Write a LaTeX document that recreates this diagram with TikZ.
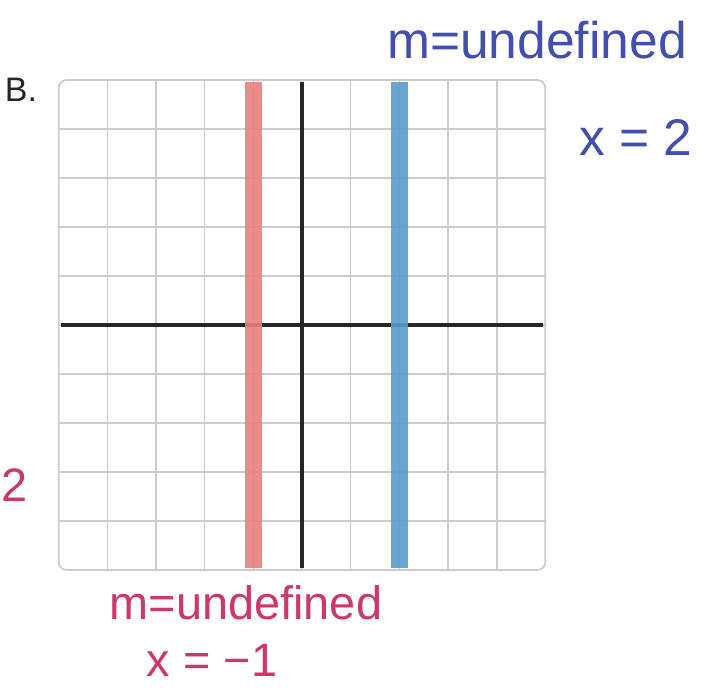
\documentclass[tikz,border=0pt]{standalone}
\usepackage{fontspec}
\setmainfont{Liberation Sans}
\definecolor{gridgray}{rgb}{0.80,0.80,0.80}
\definecolor{linered}{rgb}{0.91,0.50,0.50}
\definecolor{lineblue}{rgb}{0.35,0.61,0.80}
\definecolor{inkpink}{rgb}{0.80,0.22,0.41}
\definecolor{inkblue}{rgb}{0.26,0.31,0.69}
\tikzstyle{gridline} = [draw=gridgray, line width=1.4pt]
\tikzstyle{axis} = [draw=black!85, line width=3.6pt]
\tikzstyle{vline} = [line width=14pt, opacity=0.9]
\tikzstyle{pinknote} = [text=inkpink, font=\fontsize{40}{44}\selectfont, inner sep=0pt]
\tikzstyle{bluenote} = [text=inkblue, font=\fontsize{44}{48}\selectfont, inner sep=0pt]

\begin{document}
\begin{tikzpicture}[x=0.03cm, y=-0.03cm]
\useasboundingbox (0,0) rectangle (704,688);
\fill[white] (0,0) rectangle (704,688);

% Grid
\begin{scope}[shift={(302,325)}, x=1.46cm, y=1.47cm]
\foreach \i in {-4,...,4} {
  \draw[gridline] (\i,-5) -- (\i,5);
  \draw[gridline] (-5,\i) -- (5,\i);
}
\draw[draw=gridgray, line width=1.5pt, rounded corners=7pt] (-5,-5) rectangle (5,5);

% Axes
\draw[axis] (-4.95,0) -- (4.95,0);
\draw[axis] (0,-4.95) -- (0,4.95);

% Lines x=-1 and x=2
\draw[vline, draw=linered] (-1,-4.95) -- (-1,4.95);
\draw[vline, draw=lineblue] (2,-4.95) -- (2,4.95);
\end{scope}

% Notes
\node (part) [font=\fontsize{29}{34}\selectfont, text=black!85] at (21,90) {B.};
\node (slopeleft) [pinknote] at (246,603) {m=undefined};
\node (eqleft) [pinknote] at (212,660) {x = −1};
\node (sloperight) [bluenote] at (537,40) {m=undefined};
\node (eqright) [bluenote] at (636,137) {x = 2};
\node (cutoff) [pinknote, anchor=west] at (1,485) {2};

\end{tikzpicture}
\end{document}
